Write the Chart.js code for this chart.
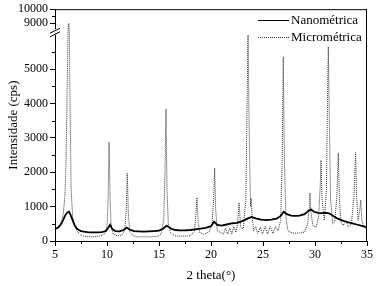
<!DOCTYPE html>
<html>
<head>
<meta charset="utf-8">
<script src="https://cdn.jsdelivr.net/npm/chart.js@4"></script>
<style>
  html, body { margin: 0; padding: 0; background: #fff; }
  #wrap { width: 382px; height: 286px; }
</style>
</head>
<body>
<div id="wrap"><canvas id="xrd"></canvas></div>
<script>
// 2 theta (graus) e intensidade (cps)
const nanoTheta = [5.0, 5.2, 5.4, 5.6, 5.8, 6.0, 6.2, 6.35, 6.5, 6.7, 6.9, 7.1, 7.3, 7.5, 7.8, 8.1, 8.5, 9.0, 9.5, 9.9,
  10.1, 10.3, 10.5, 10.8, 11.2, 11.6, 11.9, 12.2, 12.6, 13.0, 13.5, 14.0, 14.5, 15.0, 15.4, 15.7, 15.9, 16.2, 16.6, 17.0,
  17.5, 18.0, 18.5, 19.0, 19.5, 20.0, 20.3, 20.6, 21.0, 21.5, 22.0, 22.5, 23.0, 23.5, 23.9, 24.3, 24.8, 25.3, 25.8, 26.3,
  26.7, 27.0, 27.3, 27.7, 28.1, 28.5, 29.0, 29.3, 29.6, 29.9, 30.3, 30.7, 31.1, 31.4, 31.8, 32.2, 32.6, 33.0, 33.5, 34.0,
  34.5, 35.0];
const nanoCps = [350, 380, 420, 500, 620, 760, 830, 850, 760, 600, 450, 360, 320, 290, 270, 260, 250, 250, 260, 290,
  380, 470, 350, 290, 280, 320, 390, 330, 290, 280, 270, 280, 290, 300, 360, 440, 420, 350, 320, 310,
  310, 320, 340, 360, 380, 430, 560, 470, 450, 480, 510, 530, 580, 650, 700, 660, 620, 610, 620, 650,
  730, 850, 780, 740, 730, 740, 780, 860, 920, 850, 820, 810, 820, 800, 720, 650, 600, 560, 520, 480,
  440, 400];

const microTheta = [5.0, 5.3, 5.6, 5.8, 5.95, 6.05, 6.15, 6.25, 6.32, 6.38, 6.45, 6.55, 6.7, 6.9, 7.1, 7.4, 7.7, 8.0, 8.5, 9.0,
  9.5, 9.8, 10.0, 10.1, 10.2, 10.3, 10.4, 10.6, 11.0, 11.4, 11.7, 11.85, 11.95, 12.05, 12.2, 12.5, 13.0, 14.0, 14.8, 15.2,
  15.45, 15.58, 15.67, 15.77, 15.9, 16.1, 16.5, 17.0, 18.0, 18.4, 18.55, 18.65, 18.75, 18.9, 19.3, 19.8, 20.1, 20.25, 20.35, 20.45,
  20.6, 20.9, 21.2, 21.4, 21.6, 21.8, 22.0, 22.2, 22.4, 22.55, 22.7, 22.85, 23.1, 23.35, 23.45, 23.56, 23.68, 23.8, 23.86, 23.95,
  24.1, 24.3, 24.5, 24.75, 24.95, 25.2, 25.45, 25.7, 25.95, 26.2, 26.45, 26.7, 26.85, 26.95, 27.05, 27.2, 27.4, 27.7, 28.0, 28.5,
  29.0, 29.3, 29.45, 29.52, 29.62, 29.8, 30.1, 30.35, 30.5, 30.58, 30.68, 30.9, 31.1, 31.2, 31.28, 31.38, 31.5, 31.7, 31.9, 32.1,
  32.24, 32.35, 32.5, 32.7, 33.0, 33.2, 33.5, 33.75, 33.9, 34.0, 34.15, 34.3, 34.4, 34.5, 34.7, 35.0];
const microCps = [330, 380, 520, 800, 1300, 2200, 4000, 7000, 9000, 7500, 4000, 1500, 700, 420, 300, 200, 150, 130, 120, 130,
  160, 220, 450, 1100, 2880, 1200, 400, 200, 150, 170, 300, 900, 1970, 800, 250, 150, 120, 120, 130, 200,
  600, 2000, 3840, 1500, 450, 250, 150, 140, 150, 280, 800, 1260, 600, 250, 200, 260, 500, 1200, 2130, 900,
  300, 250, 200, 380, 200, 380, 200, 420, 250, 500, 1115, 400, 350, 1200, 3500, 6000, 3000, 1000, 1250, 700,
  300, 420, 220, 400, 200, 420, 200, 420, 220, 420, 300, 600, 2500, 5360, 2500, 700, 300, 240, 230, 230,
  260, 500, 1000, 1400, 800, 450, 400, 700, 1600, 2350, 1200, 600, 1500, 4000, 5650, 3500, 1200, 500, 550, 1300,
  2560, 1200, 550, 450, 600, 400, 500, 1300, 2570, 1300, 600, 900, 1190, 600, 400, 350];

const xTicks = [5, 10, 15, 20, 25, 30, 35];
const xMinor = [7.5, 12.5, 17.5, 22.5, 27.5, 32.5];
const yTicks = [0, 1000, 2000, 3000, 4000, 5000, 9000, 10000];
const yMinor = [500, 1500, 2500, 3500, 4500, 5500, 9500];

// eixo y interrompido: 0-6000 embaixo, 8570-10000 em cima
const breakStops = [[0, 0], [6000, 206.4 / 232], [8570, 212 / 232], [10000, 1]];

function warp(v) {
  for (let i = 1; i < breakStops.length; i++) {
    const [v0, d0] = breakStops[i - 1], [v1, d1] = breakStops[i];
    if (v <= v1 || i === breakStops.length - 1) return d0 + (v - v0) / (v1 - v0) * (d1 - d0);
  }
}
function unwarp(d) {
  for (let i = 1; i < breakStops.length; i++) {
    const [v0, d0] = breakStops[i - 1], [v1, d1] = breakStops[i];
    if (d <= d1 || i === breakStops.length - 1) return v0 + (d - d0) / (d1 - d0) * (v1 - v0);
  }
}

class BrokenScale extends Chart.LinearScale {
  getPixelForValue(value) { return this.getPixelForDecimal(warp(value)); }
  getValueForPixel(pixel) { return unwarp(this.getDecimalForPixel(pixel)); }
}
BrokenScale.id = 'broken';
BrokenScale.defaults = Chart.LinearScale.defaults;
Chart.register(BrokenScale);

const serif = 'Liberation Serif, Times New Roman, serif';

const framePlugin = {
  id: 'frame',
  afterDraw(chart) {
    const ctx = chart.ctx;
    const { left, right, top, bottom } = chart.chartArea;
    const xs = chart.scales.x, ys = chart.scales.y;
    ctx.save();
    ctx.strokeStyle = '#000';
    ctx.lineWidth = 1;
    // borda de cima e da direita
    ctx.beginPath();
    ctx.moveTo(left, top + 0.5); ctx.lineTo(right, top + 0.5);
    ctx.moveTo(right - 0.5, top); ctx.lineTo(right - 0.5, bottom);
    ctx.stroke();
    // ticks menores
    ctx.beginPath();
    xMinor.forEach(t => {
      const px = Math.round(xs.getPixelForValue(t)) + 0.5;
      ctx.moveTo(px, bottom); ctx.lineTo(px, bottom + 3);
    });
    yMinor.forEach(v => {
      const py = Math.round(ys.getPixelForValue(v)) + 0.5;
      ctx.moveTo(left, py); ctx.lineTo(left - 3, py);
    });
    ctx.stroke();
    // quebra do eixo
    const yLo = ys.getPixelForValue(6000), yHi = ys.getPixelForValue(8570);
    ctx.fillStyle = '#fff';
    ctx.fillRect(left - 2, yHi, 4, yLo - yHi);
    ctx.beginPath();
    ctx.moveTo(left - 5, yHi + 4); ctx.lineTo(left + 5, yHi - 1);
    ctx.moveTo(left - 5, yLo + 2); ctx.lineTo(left + 5, yLo - 3);
    ctx.stroke();

    // legenda
    ctx.font = '13px ' + serif;
    ctx.textBaseline = 'middle';
    ctx.fillStyle = '#000';
    chart.data.datasets.forEach((ds, i) => {
      const y = 20 + i * 17 + 0.5;
      ctx.strokeStyle = ds.borderColor;
      ctx.lineWidth = 1;
      ctx.setLineDash(ds.borderDash || []);
      ctx.beginPath();
      ctx.moveTo(258, y); ctx.lineTo(289, y);
      ctx.stroke();
      ctx.setLineDash([]);
      ctx.fillText(ds.label, 291, y);
    });
    ctx.restore();
  }
};

new Chart(document.getElementById('xrd'), {
  type: 'line',
  data: {
    datasets: [
      {
        label: 'Nanométrica',
        data: nanoTheta.map((t, i) => ({ x: t, y: nanoCps[i] })),
        borderColor: '#000',
        borderWidth: 1.8,
        pointRadius: 0,
        tension: 0
      },
      {
        label: 'Micrométrica',
        data: microTheta.map((t, i) => ({ x: t, y: microCps[i] })),
        borderColor: '#333',
        borderWidth: 1,
        borderDash: [1, 1],
        pointRadius: 0,
        tension: 0
      }
    ]
  },
  options: {
    responsive: true,
    maintainAspectRatio: false,
    animation: false,
    layout: { padding: { top: 9, right: 15, left: 0, bottom: 0 } },
    plugins: {
      legend: { display: false },
      tooltip: { enabled: false }
    },
    scales: {
      x: {
        type: 'linear',
        min: 5,
        max: 35,
        afterBuildTicks: s => { s.ticks = xTicks.map(v => ({ value: v })); },
        afterFit: s => { s.height = 45; },
        grid: { drawOnChartArea: false, drawTicks: true, tickLength: 5, color: '#000' },
        border: { display: true, color: '#000', width: 1 },
        ticks: { color: '#000', font: { family: serif, size: 12 }, padding: 2, maxRotation: 0 },
        title: { display: true, text: '2 theta(°)', color: '#000', font: { family: serif, size: 13 }, padding: { top: 0, bottom: 3 } }
      },
      y: {
        type: 'broken',
        min: 0,
        max: 10000,
        afterBuildTicks: s => { s.ticks = yTicks.map(v => ({ value: v })); },
        afterFit: s => { s.width = 55; },
        grid: { drawOnChartArea: false, drawTicks: true, tickLength: 5, color: '#000' },
        border: { display: true, color: '#000', width: 1 },
        ticks: { color: '#000', font: { family: serif, size: 12 }, padding: 2, callback: v => String(v) },
        title: { display: true, text: 'Intensidade (cps)', color: '#000', font: { family: serif, size: 13 }, padding: { top: 6, bottom: 0 } }
      }
    }
  },
  plugins: [framePlugin]
});
</script>
</body>
</html>
